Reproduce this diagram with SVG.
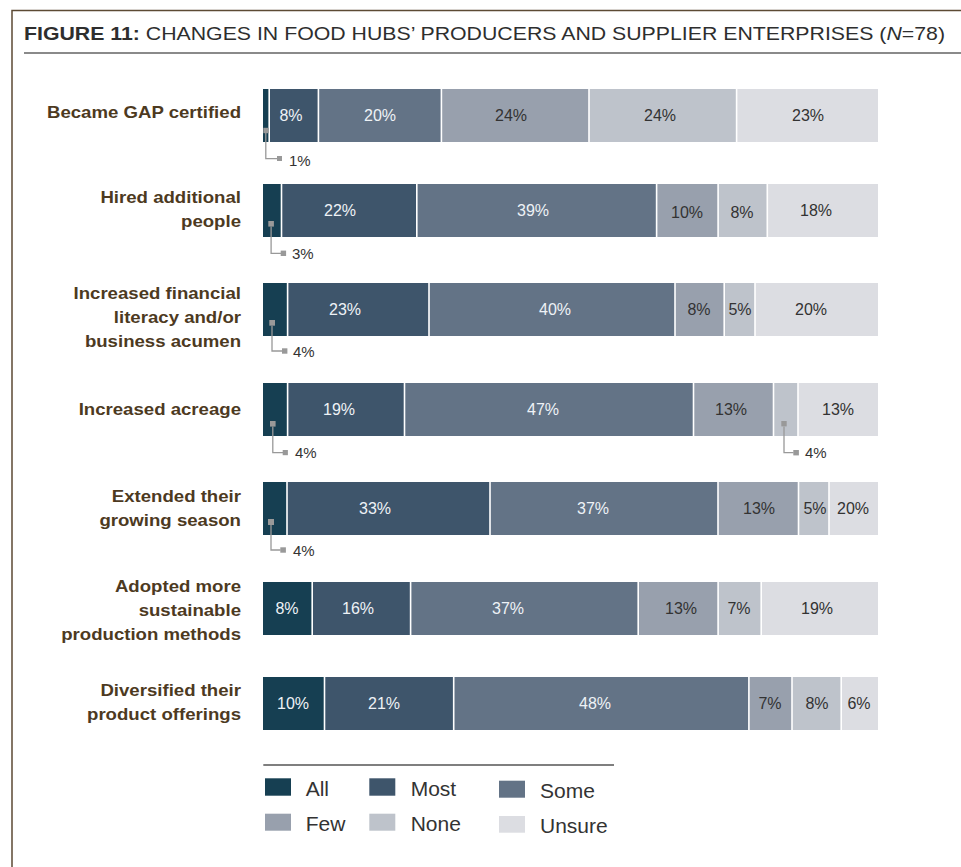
<svg xmlns="http://www.w3.org/2000/svg" width="961" height="867" viewBox="0 0 961 867">
<style>
.lbl{font-family:"Liberation Sans",Arial,sans-serif;font-weight:bold;font-size:17px;fill:#4d3a1f;text-anchor:end}
.pw{font-family:"Liberation Sans",Arial,sans-serif;font-size:16px;fill:#eef2f6;text-anchor:middle}
.pd{font-family:"Liberation Sans",Arial,sans-serif;font-size:16px;fill:#333;text-anchor:middle}
.co{font-family:"Liberation Sans",Arial,sans-serif;font-size:15px;fill:#333}
.lg{font-family:"Liberation Sans",Arial,sans-serif;font-size:21px;fill:#333}
.all{fill:#163f52}.most{fill:#3e556b}.some{fill:#637386}.few{fill:#98a0ad}.none{fill:#bec3cb}.uns{fill:#dcdde2}
.sep{stroke:#fff;stroke-width:1.6}
.cl{fill:none;stroke:#999;stroke-width:1.3}
.cm{fill:#999}
</style>
<rect width="961" height="867" fill="#fff"/>
<path d="M12 867 V10.5 H961" fill="none" stroke="#5c4a34" stroke-width="1.5"/>
<text x="24" y="39.5" font-family="Liberation Sans,Arial,sans-serif" font-size="19" fill="#2e2e2e" textLength="921" lengthAdjust="spacingAndGlyphs"><tspan font-weight="bold">FIGURE 11:</tspan> CHANGES IN FOOD HUBS’ PRODUCERS AND SUPPLIER ENTERPRISES (<tspan font-style="italic">N</tspan>=78)</text>
<line x1="24" y1="53" x2="961" y2="53" stroke="#8a8a8a" stroke-width="2"/>

<g id="row1">
<g transform="translate(241 0) scale(1.095 1)">
<text class="lbl" x="0" y="118">Became GAP certified</text>
</g>
<rect class="all" x="263" y="89" width="6.2" height="53"/>
<rect class="most" x="269.2" y="89" width="49.2" height="53"/>
<rect class="some" x="318.4" y="89" width="123" height="53"/>
<rect class="few" x="441.4" y="89" width="147.6" height="53"/>
<rect class="none" x="589" y="89" width="147.6" height="53"/>
<rect class="uns" x="736.6" y="89" width="141.4" height="53"/>
<path class="sep" d="M269.2 89v53M318.4 89v53M441.4 89v53M589 89v53M736.6 89v53"/>
<text class="pw" x="291" y="121">8%</text>
<text class="pw" x="380" y="121">20%</text>
<text class="pd" x="511" y="121">24%</text>
<text class="pd" x="660" y="121">24%</text>
<text class="pd" x="808" y="121">23%</text>
</g>

<g id="row2">
<g transform="translate(241 0) scale(1.095 1)">
<text class="lbl" x="0" y="203">Hired additional</text>
<text class="lbl" x="0" y="227">people</text>
</g>
<rect class="all" x="263" y="184" width="18.5" height="53"/>
<rect class="most" x="281.5" y="184" width="135.3" height="53"/>
<rect class="some" x="416.8" y="184" width="239.8" height="53"/>
<rect class="few" x="656.6" y="184" width="61.5" height="53"/>
<rect class="none" x="718.1" y="184" width="49.2" height="53"/>
<rect class="uns" x="767.3" y="184" width="110.7" height="53"/>
<path class="sep" d="M281.5 184v53M416.8 184v53M656.6 184v53M718.1 184v53M767.3 184v53"/>
<text class="pw" x="340" y="216">22%</text>
<text class="pw" x="533" y="216">39%</text>
<text class="pd" x="687" y="218">10%</text>
<text class="pd" x="742" y="218">8%</text>
<text class="pd" x="816" y="216">18%</text>
</g>

<g id="row3">
<g transform="translate(241 0) scale(1.095 1)">
<text class="lbl" x="0" y="299">Increased financial</text>
<text class="lbl" x="0" y="323">literacy and/or</text>
<text class="lbl" x="0" y="347">business acumen</text>
</g>
<rect class="all" x="263" y="283" width="24.6" height="53"/>
<rect class="most" x="287.6" y="283" width="141.4" height="53"/>
<rect class="some" x="429" y="283" width="246" height="53"/>
<rect class="few" x="675" y="283" width="49.2" height="53"/>
<rect class="none" x="724.2" y="283" width="30.8" height="53"/>
<rect class="uns" x="755" y="283" width="123" height="53"/>
<path class="sep" d="M287.6 283v53M429 283v53M675 283v53M724.2 283v53M755 283v53"/>
<text class="pw" x="345" y="315">23%</text>
<text class="pw" x="555" y="315">40%</text>
<text class="pd" x="699" y="315">8%</text>
<text class="pd" x="740" y="315">5%</text>
<text class="pd" x="811" y="315">20%</text>
</g>

<g id="row4">
<g transform="translate(241 0) scale(1.095 1)">
<text class="lbl" x="0" y="415">Increased acreage</text>
</g>
<rect class="all" x="263" y="383" width="24.6" height="53"/>
<rect class="most" x="287.6" y="383" width="116.9" height="53"/>
<rect class="some" x="404.5" y="383" width="289" height="53"/>
<rect class="few" x="693.5" y="383" width="80" height="53"/>
<rect class="none" x="773.5" y="383" width="24.5" height="53"/>
<rect class="uns" x="798" y="383" width="80" height="53"/>
<path class="sep" d="M287.6 383v53M404.5 383v53M693.5 383v53M773.5 383v53M798 383v53"/>
<text class="pw" x="339" y="415">19%</text>
<text class="pw" x="543" y="415">47%</text>
<text class="pd" x="731" y="415">13%</text>
<text class="pd" x="838" y="415">13%</text>
</g>

<g id="row5">
<g transform="translate(241 0) scale(1.095 1)">
<text class="lbl" x="0" y="502">Extended their</text>
<text class="lbl" x="0" y="526">growing season</text>
</g>
<rect class="all" x="263" y="482" width="24" height="53"/>
<rect class="most" x="287" y="482" width="203" height="53"/>
<rect class="some" x="490" y="482" width="228" height="53"/>
<rect class="few" x="718" y="482" width="80.5" height="53"/>
<rect class="none" x="798.5" y="482" width="30.5" height="53"/>
<rect class="uns" x="829" y="482" width="49" height="53"/>
<path class="sep" d="M287 482v53M490 482v53M718 482v53M798.5 482v53M829 482v53"/>
<text class="pw" x="375" y="514">33%</text>
<text class="pw" x="593" y="514">37%</text>
<text class="pd" x="759" y="514">13%</text>
<text class="pd" x="815" y="514">5%</text>
<text class="pd" x="853" y="514">20%</text>
</g>

<g id="row6">
<g transform="translate(241 0) scale(1.095 1)">
<text class="lbl" x="0" y="592">Adopted more</text>
<text class="lbl" x="0" y="616">sustainable</text>
<text class="lbl" x="0" y="640">production methods</text>
</g>
<rect class="all" x="263" y="582" width="49.2" height="53"/>
<rect class="most" x="312.2" y="582" width="98.4" height="53"/>
<rect class="some" x="410.6" y="582" width="227.6" height="53"/>
<rect class="few" x="638.2" y="582" width="79.9" height="53"/>
<rect class="none" x="718.1" y="582" width="43.1" height="53"/>
<rect class="uns" x="761.2" y="582" width="116.8" height="53"/>
<path class="sep" d="M312.2 582v53M410.6 582v53M638.2 582v53M718.1 582v53M761.2 582v53"/>
<text class="pw" x="287" y="614">8%</text>
<text class="pw" x="358" y="614">16%</text>
<text class="pw" x="508" y="614">37%</text>
<text class="pd" x="681" y="614">13%</text>
<text class="pd" x="739" y="614">7%</text>
<text class="pd" x="817" y="614">19%</text>
</g>

<g id="row7">
<g transform="translate(241 0) scale(1.095 1)">
<text class="lbl" x="0" y="696">Diversified their</text>
<text class="lbl" x="0" y="720">product offerings</text>
</g>
<rect class="all" x="263" y="677" width="61.5" height="53"/>
<rect class="most" x="324.5" y="677" width="129.2" height="53"/>
<rect class="some" x="453.7" y="677" width="295.2" height="53"/>
<rect class="few" x="748.9" y="677" width="43.1" height="53"/>
<rect class="none" x="792" y="677" width="49.2" height="53"/>
<rect class="uns" x="841.2" y="677" width="36.8" height="53"/>
<path class="sep" d="M324.5 677v53M453.7 677v53M748.9 677v53M792 677v53M841.2 677v53"/>
<text class="pw" x="293" y="709">10%</text>
<text class="pw" x="384" y="709">21%</text>
<text class="pw" x="595" y="709">48%</text>
<text class="pd" x="770" y="709">7%</text>
<text class="pd" x="817" y="709">8%</text>
<text class="pd" x="859" y="709">6%</text>
</g>

<g id="callouts">
<rect class="cm" x="263.3" y="127.8" width="5.4" height="5.4"/>
<path class="cl" d="M265.8 133V158.7H278"/>
<rect class="cm" x="277" y="156" width="5" height="5"/>
<text class="co" x="289" y="166">1%</text>

<rect class="cm" x="268.3" y="221" width="5.6" height="5.6"/>
<path class="cl" d="M271.1 226.6V253.3H281"/>
<rect class="cm" x="280.7" y="250.6" width="5.4" height="5.4"/>
<text class="co" x="292" y="258.5">3%</text>

<rect class="cm" x="269.3" y="320" width="5.7" height="5.7"/>
<path class="cl" d="M272 325.7V351H282"/>
<rect class="cm" x="282" y="348.3" width="5.4" height="5.4"/>
<text class="co" x="293" y="356.5">4%</text>

<rect class="cm" x="270" y="421" width="5.6" height="5.6"/>
<path class="cl" d="M272.8 426.6V452.7H283"/>
<rect class="cm" x="282.7" y="450" width="5.2" height="5.2"/>
<text class="co" x="295" y="458">4%</text>

<rect class="cm" x="781.3" y="421" width="5.4" height="5.4"/>
<path class="cl" d="M784 426.4V452.7H793.5"/>
<rect class="cm" x="793.3" y="450" width="5.6" height="5.4"/>
<text class="co" x="805" y="458">4%</text>

<rect class="cm" x="268" y="519" width="6" height="6"/>
<path class="cl" d="M271 525V550H280.5"/>
<rect class="cm" x="280.3" y="547.3" width="5.6" height="5.4"/>
<text class="co" x="293" y="555.5">4%</text>
</g>

<g id="legend">
<line x1="263.3" y1="765" x2="614" y2="765" stroke="#555" stroke-width="1.5"/>
<rect class="all" x="265" y="778.3" width="26" height="17.4"/>
<text class="lg" x="305.7" y="796">All</text>
<rect class="most" x="369.3" y="778.3" width="26" height="17.4"/>
<text class="lg" x="410.7" y="796">Most</text>
<rect class="some" x="499" y="780.7" width="26" height="17"/>
<text class="lg" x="540" y="797.5">Some</text>
<rect class="few" x="265" y="813.7" width="26" height="17"/>
<text class="lg" x="305.7" y="830.7">Few</text>
<rect class="none" x="369.3" y="813.7" width="26" height="17"/>
<text class="lg" x="410.7" y="830.7">None</text>
<rect class="uns" x="499" y="816" width="26" height="16.7"/>
<text class="lg" x="540" y="832.7">Unsure</text>
</g>
</svg>
